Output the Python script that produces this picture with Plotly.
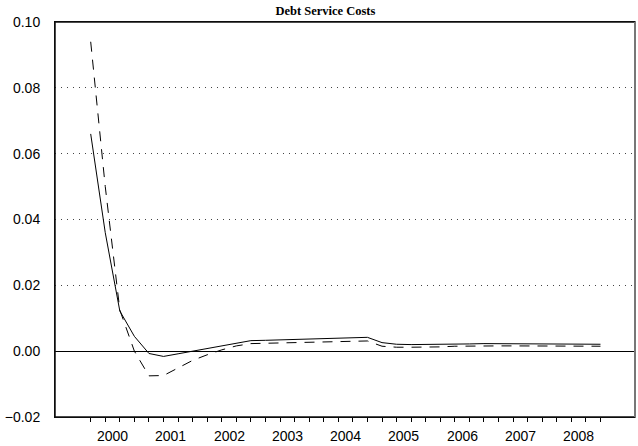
import plotly.graph_objects as go

# Quarterly observations 2000Q1 .. 2008Q4
quarters = [f"{y}Q{q}" for y in range(2000, 2009) for q in range(1, 5)]
years = ["2000", "2001", "2002", "2003", "2004", "2005", "2006", "2007", "2008"]

solid_series = [
    0.0660, 0.0360, 0.0122, 0.0045, -0.0007, -0.0016, -0.0008, 0.0000,
    0.0008, 0.0016, 0.0024, 0.0032, 0.0033, 0.0034, 0.0035, 0.0037,
    0.0038, 0.0040, 0.0041, 0.0042, 0.0026, 0.0021, 0.0020, 0.0020,
    0.0020, 0.0021, 0.0022, 0.0023, 0.0023, 0.0023, 0.0022, 0.0021,
    0.0021, 0.0021, 0.0021, 0.0021,
]
dashed_series = [
    0.0940, 0.0500, 0.0125, 0.0000, -0.0075, -0.0074, -0.0051, -0.0028,
    -0.0011, 0.0004, 0.0016, 0.0023, 0.0024, 0.0025, 0.0026, 0.0027,
    0.0027, 0.0028, 0.0030, 0.0031, 0.0015, 0.0012, 0.0012, 0.0012,
    0.0013, 0.0015, 0.0016, 0.0016, 0.0016, 0.0016, 0.0016, 0.0015,
    0.0015, 0.0015, 0.0015, 0.0015,
]

idx = list(range(len(quarters)))
year_start = [i for i, q in enumerate(quarters) if q.endswith("Q1")]
year_mid = [i + 1.5 for i in year_start]

x_range = [-2.45, 37.37]
tick_font = dict(family="Liberation Sans, Arial, sans-serif", size=14, color="black")

fig = go.Figure()
fig.add_trace(go.Scatter(x=idx, y=solid_series, mode="lines",
                         line=dict(color="black", width=1), showlegend=False,
                         hoverinfo="skip"))
fig.add_trace(go.Scatter(x=idx, y=dashed_series, mode="lines",
                         line=dict(color="black", width=1, dash="10px,8px"),
                         showlegend=False, hoverinfo="skip"))

fig.update_layout(
    width=638, height=446,
    margin=dict(l=55, r=3, t=22, b=29, autoexpand=False),
    paper_bgcolor="white", plot_bgcolor="white",
    font=tick_font,
    title=dict(text="<b>Debt Service Costs</b>",
               font=dict(family="Liberation Serif, Times New Roman, serif", size=12.5, color="black"),
               x=0.51, xref="container", xanchor="center",
               y=0.976, yref="container", yanchor="middle"),
    xaxis=dict(range=x_range, showgrid=False, zeroline=False, automargin=False,
               showline=True, linecolor="black", linewidth=1, mirror=True,
               tickmode="array", tickvals=year_start, ticktext=[""] * len(year_start),
               ticks="outside", ticklen=8, tickwidth=1, tickcolor="black",
               minor=dict(tickmode="array", tickvals=idx, ticks="outside",
                          ticklen=4, tickwidth=1, tickcolor="black", showgrid=False),
               showticklabels=False),
    yaxis=dict(range=[-0.02, 0.10], dtick=0.02, tick0=0, tickformat=".2f",
               automargin=False, showline=True, linecolor="black", linewidth=1,
               showgrid=True, gridcolor="#444444", gridwidth=1, griddash="1px,5px",
               zeroline=True, zerolinecolor="black", zerolinewidth=1,
               ticks="", ticklabelstandoff=11, tickfont=tick_font),
)

# year labels centred over each year's four quarters
for xm, lab in zip(year_mid, years):
    fig.add_annotation(x=xm, xref="x", y=0, yref="paper", text=lab,
                       showarrow=False, xanchor="center", yanchor="top",
                       yshift=-9, font=tick_font)

# frame: full box, then gray right edge over it
fig.add_shape(type="rect", xref="paper", yref="paper", x0=0, x1=1, y0=0, y1=1,
              line=dict(color="#111111", width=1.5), fillcolor="rgba(0,0,0,0)",
              layer="above")
fig.add_shape(type="line", xref="paper", yref="paper", x0=1, x1=1, y0=0, y1=1,
              line=dict(color="#777777", width=2), layer="above")

fig.write_html("out.html", config={"displayModeBar": False},
               post_script="document.body.style.margin='0';document.body.style.overflow='hidden';")
